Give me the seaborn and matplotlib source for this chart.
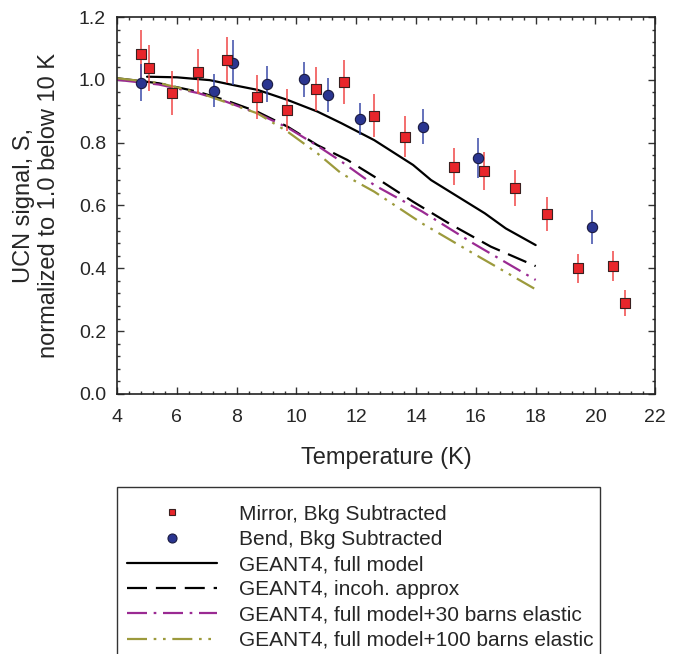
import numpy as np
import pandas as pd
import matplotlib
matplotlib.use("Agg")
import matplotlib.pyplot as plt
from matplotlib.ticker import MultipleLocator, FormatStrFormatter
from matplotlib.lines import Line2D
from matplotlib.patches import Rectangle
import seaborn as sns

mirrorT = [4.80, 5.06, 5.83, 6.72, 7.68, 8.69, 9.67, 10.64, 11.60, 12.60,
           13.63, 15.27, 16.28, 17.31, 18.37, 19.43, 20.58, 21.00]
mirrorS = [1.082, 1.037, 0.957, 1.026, 1.063, 0.945, 0.904, 0.970, 0.992, 0.886,
           0.819, 0.723, 0.710, 0.655, 0.572, 0.400, 0.408, 0.289]
mirrorErr = [0.076, 0.073, 0.070, 0.072, 0.074, 0.070, 0.067, 0.070, 0.070, 0.068,
             0.066, 0.059, 0.060, 0.058, 0.054, 0.046, 0.047, 0.042]

bendT = [4.81, 7.24, 7.86, 9.00, 10.24, 11.06, 12.13, 14.22, 16.08, 19.90]
bendS = [0.991, 0.965, 1.054, 0.987, 1.002, 0.952, 0.875, 0.851, 0.751, 0.531]
bendErr = [0.058, 0.053, 0.072, 0.057, 0.056, 0.053, 0.052, 0.055, 0.063, 0.054]

# GEANT4 simulation curves
fullT = [5.0, 6.0, 7.1, 7.9, 8.7, 9.7, 10.7, 11.5, 12.6, 13.9, 14.5, 15.4, 16.3, 17.0, 18.0]
fullS = [1.010, 1.008, 0.999, 0.983, 0.968, 0.936, 0.899, 0.862, 0.808, 0.729, 0.681,
         0.628, 0.575, 0.527, 0.474]

incohT = [4.0, 5.4, 6.7, 7.6, 8.7, 9.7, 10.7, 11.7, 12.6, 13.9, 15.1, 16.5, 18.0]
incohS = [1.005, 0.989, 0.962, 0.936, 0.898, 0.851, 0.792, 0.745, 0.692, 0.612, 0.543,
          0.469, 0.407]

el30T = [4.0, 5.4, 6.7, 7.6, 8.7, 9.7, 10.7, 11.5, 12.6, 14.2, 15.9, 18.0]
el30S = [1.000, 0.985, 0.958, 0.932, 0.893, 0.848, 0.790, 0.740, 0.665, 0.581, 0.480, 0.363]

el100T = [4.0, 5.4, 6.8, 7.6, 8.7, 9.7, 10.7, 11.5, 12.6, 14.2, 15.9, 18.0]
el100S = [1.005, 0.990, 0.957, 0.930, 0.893, 0.835, 0.766, 0.702, 0.644, 0.543, 0.448, 0.333]

labels = ["Mirror, Bkg Subtracted", "Bend, Bkg Subtracted", "GEANT4, full model",
          "GEANT4, incoh. approx", "GEANT4, full model+30 barns elastic",
          "GEANT4, full model+100 barns elastic"]


def makePlot():
    sns.set_style("ticks")
    plt.rcParams['font.family'] = ['Liberation Sans', 'DejaVu Sans']

    fig = plt.figure(figsize=(6.89, 6.54), dpi=100)
    ax = fig.add_axes([0.170, 0.3976, 0.781, 0.5764])

    red = "#e8262b"
    blue = "#2a3590"
    purple = "#9a2a92"
    olive = "#9c9a3c"

    curves = [
        (fullT, fullS, "black", "-"),
        (incohT, incohS, "black", (0, (9, 4))),
        (el30T, el30S, purple, (0, (9, 3, 1.2, 3))),
        (el100T, el100S, olive, (0, (9, 3, 1.2, 3, 1.2, 3))),
    ]
    for t, s, c, ls in curves:
        df = pd.DataFrame({"T": t, "S": s})
        sns.lineplot(data=df, x="T", y="S", ax=ax, color=c, linestyle=ls, lw=1.6,
                     sort=True, errorbar=None)

    ax.errorbar(mirrorT, mirrorS, yerr=mirrorErr, fmt="none", ecolor="#f04646",
                elinewidth=1.1, capsize=0, zorder=3)
    ax.errorbar(bendT, bendS, yerr=bendErr, fmt="none", ecolor="#3a4aa8",
                elinewidth=1.1, capsize=0, zorder=3)

    sns.scatterplot(x=bendT, y=bendS, ax=ax, marker="o", s=55, color=blue,
                    edgecolor="#1a1a40", linewidth=0.8, zorder=4)
    sns.scatterplot(x=mirrorT, y=mirrorS, ax=ax, marker="s", s=45, color=red,
                    edgecolor="#3a2020", linewidth=0.8, zorder=5)

    ax.set_xlim(4, 22)
    ax.set_ylim(0, 1.2)
    ax.xaxis.set_major_locator(MultipleLocator(2))
    ax.xaxis.set_minor_locator(MultipleLocator(0.4))
    ax.yaxis.set_major_locator(MultipleLocator(0.2))
    ax.yaxis.set_minor_locator(MultipleLocator(0.04))
    ax.yaxis.set_major_formatter(FormatStrFormatter("%.1f"))
    ax.tick_params(which="both", direction="in", top=True, right=True, width=1.0,
                   labelsize=14, color="#333333")
    ax.tick_params(which="major", length=5)
    ax.tick_params(which="minor", length=2.5)
    ax.tick_params(axis="x", which="major", pad=11)
    ax.tick_params(axis="y", which="major", pad=8)
    for sp in ax.spines.values():
        sp.set_linewidth(1.2)
        sp.set_color("#222222")

    ax.set_xlabel("Temperature (K)", fontsize=17)
    ax.xaxis.set_label_coords(0.5, -0.141)
    ax.set_ylabel("UCN signal, S,\nnormalized to 1.0 below 10 K", fontsize=17)
    ax.yaxis.set_label_coords(-0.106, 0.5)

    handles = [
        Line2D([], [], ls="none", marker="s", ms=5, mfc=red, mec="#3a2020", mew=0.8),
        Line2D([], [], ls="none", marker="o", ms=6.5, mfc=blue, mec="#1a1a40", mew=0.8),
        Line2D([], [], color="black", lw=1.6, ls="-"),
        Line2D([], [], color="black", lw=1.6, ls=(0, (9, 4))),
        Line2D([], [], color=purple, lw=1.6, ls=(0, (9, 3, 1.2, 3))),
        Line2D([], [], color=olive, lw=1.6, ls=(0, (9, 3, 1.2, 3, 1.2, 3))),
    ]
    fig.legend(handles, labels, loc="upper left",
               bbox_to_anchor=(0.1698, 0.2442), borderaxespad=0, fontsize=15,
               handlelength=4.3, handletextpad=1.05, labelspacing=0.3,
               borderpad=0.5, frameon=False)
    # legend box runs off the bottom edge, as in the original figure
    fig.patches.append(Rectangle((0.1698, -0.02), 0.701, 0.2754, transform=fig.transFigure,
                                 fill=False, edgecolor="#333333", linewidth=1.0))

    fig.savefig("out.png", dpi=100)
    plt.close(fig)


if __name__ == "__main__":
    makePlot()
